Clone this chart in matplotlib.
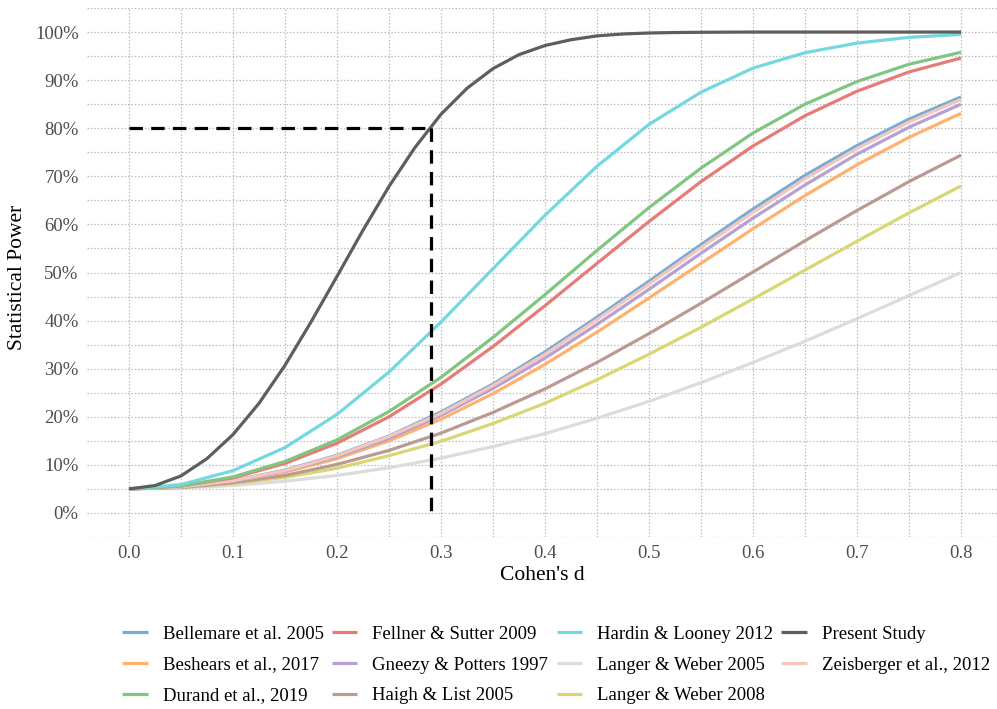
import numpy as np
import matplotlib
matplotlib.use("Agg")
import matplotlib.pyplot as plt
from matplotlib.ticker import MultipleLocator, FuncFormatter

plt.rcParams['font.family'] = ['Liberation Serif', 'DejaVu Serif']

# Effect sizes (Cohen's d)
d = [0.00, 0.05, 0.10, 0.15, 0.20, 0.25, 0.30, 0.35, 0.40, 0.45, 0.50,
     0.55, 0.60, 0.65, 0.70, 0.75, 0.80]
d_fine = [0.000, 0.025, 0.050, 0.075, 0.100, 0.125, 0.150, 0.175, 0.200,
          0.225, 0.250, 0.275, 0.300, 0.325, 0.350, 0.375, 0.400, 0.425,
          0.450, 0.475, 0.500, 0.525, 0.550, 0.575, 0.600, 0.625, 0.650,
          0.675, 0.700, 0.725, 0.750, 0.775, 0.800]

bellemare = [0.050, 0.054, 0.067, 0.089, 0.120, 0.160, 0.210, 0.268, 0.335,
             0.407, 0.482, 0.558, 0.632, 0.702, 0.764, 0.819, 0.865]
beshears = [0.050, 0.054, 0.066, 0.085, 0.113, 0.150, 0.195, 0.248, 0.309,
            0.376, 0.447, 0.519, 0.591, 0.660, 0.724, 0.781, 0.831]
durand = [0.050, 0.056, 0.075, 0.107, 0.152, 0.211, 0.282, 0.365, 0.454,
          0.546, 0.635, 0.717, 0.790, 0.850, 0.897, 0.933, 0.958]
fellner = [0.050, 0.056, 0.073, 0.103, 0.145, 0.200, 0.268, 0.346, 0.431,
           0.519, 0.606, 0.689, 0.763, 0.826, 0.877, 0.917, 0.946]
gneezy = [0.050, 0.054, 0.066, 0.087, 0.117, 0.155, 0.203, 0.259, 0.322,
          0.392, 0.465, 0.540, 0.613, 0.682, 0.746, 0.802, 0.850]
haigh = [0.050, 0.053, 0.063, 0.078, 0.101, 0.130, 0.166, 0.209, 0.258,
         0.313, 0.373, 0.436, 0.501, 0.566, 0.629, 0.689, 0.744]
hardin = [0.050, 0.059, 0.088, 0.136, 0.205, 0.293, 0.397, 0.508, 0.619,
          0.721, 0.808, 0.875, 0.925, 0.957, 0.977, 0.989, 0.995]
langer2005 = [0.050, 0.052, 0.057, 0.066, 0.078, 0.094, 0.114, 0.138, 0.165,
              0.197, 0.232, 0.271, 0.313, 0.357, 0.404, 0.452, 0.500]
langer2008 = [0.050, 0.053, 0.061, 0.074, 0.093, 0.119, 0.149, 0.186, 0.228,
              0.277, 0.330, 0.386, 0.445, 0.505, 0.565, 0.624, 0.680]
zeisberger = [0.050, 0.054, 0.067, 0.088, 0.119, 0.159, 0.207, 0.265, 0.330,
              0.402, 0.476, 0.552, 0.625, 0.695, 0.758, 0.813, 0.860]
present = [0.050, 0.057, 0.077, 0.113, 0.163, 0.228, 0.307, 0.397, 0.492,
           0.588, 0.679, 0.760, 0.829, 0.883, 0.924, 0.953, 0.972, 0.984,
           0.992, 0.996, 0.998, 0.999, 0.9995, 0.9998, 1.0, 1.0, 1.0,
           1.0, 1.0, 1.0, 1.0, 1.0, 1.0]

labels = ["Bellemare et al. 2005", "Beshears et al., 2017", "Durand et al., 2019",
          "Fellner & Sutter 2009", "Gneezy & Potters 1997", "Haigh & List 2005",
          "Hardin & Looney 2012", "Langer & Weber 2005", "Langer & Weber 2008",
          "Present Study", "Zeisberger et al., 2012"]
series = [bellemare, beshears, durand, fellner, gneezy, haigh, hardin,
          langer2005, langer2008, present, zeisberger]
colors = ["#78acd3", "#ffb26e", "#80c680", "#e67b78", "#b6a0d4", "#ba9a93",
          "#73d8e2", "#dcdcdc", "#d7d773", "#5e5e5e", "#f4c6bd"]

target_power = 0.80
d_at_target = 0.29

fig = plt.figure(figsize=(9.97, 7.09), dpi=100)
ax = fig.add_axes([87 / 997, 1 - 537 / 709, (997 - 87) / 997, (537 - 8) / 709])

draw_order = [7, 8, 5, 1, 4, 0, 10, 3, 2, 6, 9]
handles = [None] * len(labels)
for i in draw_order:
    x = d_fine if labels[i] == "Present Study" else d
    h, = ax.plot(x, series[i], color=colors[i], lw=2.3, label=labels[i],
                 solid_capstyle='butt', solid_joinstyle='round', zorder=3)
    handles[i] = h

ax.plot([0, d_at_target], [target_power, target_power], color='black', lw=2.3,
        ls=(0, (4.2, 2.6)), zorder=4)
ax.plot([d_at_target, d_at_target], [target_power, 0], color='black', lw=2.3,
        ls=(0, (4.2, 2.6)), zorder=4)

ax.set_xlim(-42 / 1040, 0.8 + 36 / 1040)
ax.set_ylim(-0.05, 1.05)
ax.xaxis.set_major_locator(MultipleLocator(0.1))
ax.xaxis.set_minor_locator(MultipleLocator(0.05))
ax.yaxis.set_major_locator(MultipleLocator(0.1))
ax.yaxis.set_minor_locator(MultipleLocator(0.05))
ax.xaxis.set_major_formatter(FuncFormatter(lambda v, p: f"{v:.1f}"))
ax.yaxis.set_major_formatter(FuncFormatter(lambda v, p: f"{v*100:.0f}%"))
ax.grid(True, which='both', color='#bdbdbd', lw=0.9, ls=(0, (1.2, 1.5)), zorder=0)
ax.set_axisbelow(True)
for s in ax.spines.values():
    s.set_visible(False)
ax.tick_params(which='both', length=0, labelsize=13.5, labelcolor='#4d4d4d', pad=6)
ax.set_xlabel("Cohen's d", fontsize=15.5, labelpad=3)
ax.set_ylabel("Statistical Power", fontsize=15.5)
ax.yaxis.set_label_coords(-60 / 910, (537 - 277) / 529)

fig.legend(handles=handles, labels=labels, ncol=4, loc='center',
           bbox_to_anchor=(556 / 997, 1 - 665 / 709), frameon=False,
           fontsize=13.5, handlelength=1.35, handletextpad=0.8,
           columnspacing=0.45, labelspacing=0.72)

fig.savefig("out.png", dpi=100)
